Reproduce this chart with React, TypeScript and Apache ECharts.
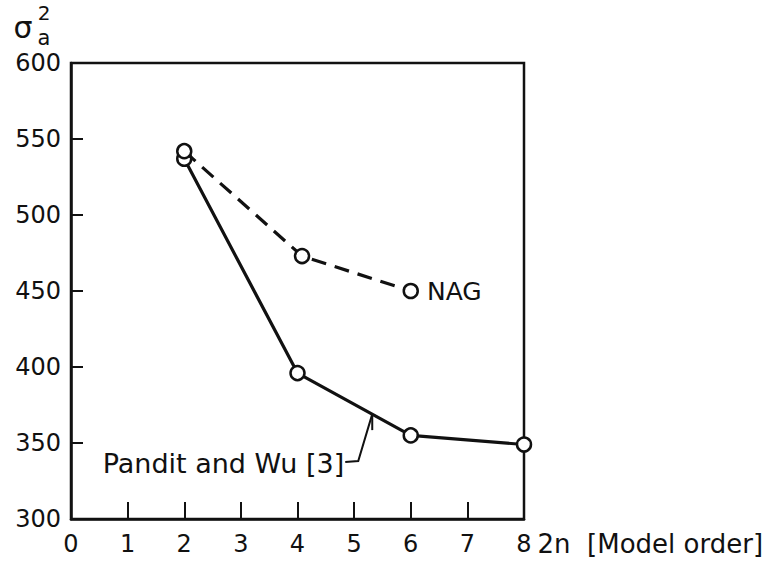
import React, { useEffect, useRef } from "react";
import * as echarts from "echarts";

const xTicks = [0, 1, 2, 3, 4, 5, 6, 7, 8];
const yTicks = [300, 350, 400, 450, 500, 550, 600];
const panditX = [2, 4, 6, 8];
const panditY = [537, 396, 355, 349];
const nagX = [2, 4.08, 6];
const nagY = [542, 473, 450];
const FONT = "DejaVu Sans";

export default function App() {
  const ref = useRef<HTMLDivElement>(null);
  useEffect(() => {
    if (!ref.current) return;
    const chart = echarts.init(ref.current, null, { renderer: "svg" });
    const black = "#111";
    chart.setOption({
      animation: false,
      backgroundColor: "#fff",
      grid: { left: 71, right: 252, top: 63, bottom: 43, show: true, borderColor: black, borderWidth: 2.5 },
      xAxis: {
        type: "value",
        min: xTicks[0],
        max: xTicks[xTicks.length - 1],
        interval: 1,
        name: "2n  [Model order]",
        nameLocation: "end",
        nameGap: 10,
        nameTextStyle: { fontFamily: FONT, fontSize: 26, color: black, verticalAlign: "top", padding: [12, 0, 0, 0] },
        axisLine: { show: true, lineStyle: { color: black, width: 2.5 } },
        axisTick: { show: true, inside: true, length: 17, lineStyle: { color: black, width: 2 } },
        axisLabel: { fontFamily: FONT, fontSize: 24, color: black, margin: 13 },
        splitLine: { show: false },
      },
      yAxis: {
        type: "value",
        min: yTicks[0],
        max: yTicks[yTicks.length - 1],
        interval: 50,
        axisLine: { show: true, lineStyle: { color: black, width: 2.5 } },
        axisTick: { show: true, inside: true, length: 12, lineStyle: { color: black, width: 2 } },
        axisLabel: { fontFamily: FONT, fontSize: 24, color: black, margin: 10 },
        splitLine: { show: false },
      },
      series: [
        {
          name: "Pandit and Wu [3]",
          type: "line",
          data: panditX.map((x, i) => [x, panditY[i]]),
          symbol: "circle",
          symbolSize: 14,
          itemStyle: { color: "#fff", borderColor: black, borderWidth: 2.5 },
          lineStyle: { color: black, width: 3.2 },
          z: 3,
        },
        {
          name: "NAG",
          type: "line",
          data: nagX.map((x, i) => [x, nagY[i]]),
          symbol: "circle",
          symbolSize: 14,
          itemStyle: { color: "#fff", borderColor: black, borderWidth: 2.5 },
          lineStyle: { color: black, width: 3.2, type: [15, 9] },
          label: {
            show: true,
            position: "right",
            distance: 8,
            fontFamily: FONT,
            fontSize: 25,
            color: black,
            formatter: (p: any) => (p.dataIndex === nagX.length - 1 ? "NAG" : ""),
          },
          z: 4,
        },
      ],
    });

    const tip = chart.convertToPixel({ gridIndex: 0 }, [5.32, 369]) as number[];
    chart.setOption({
      graphic: [
        { type: "text", x: 23, y: 27, style: { text: "σ", font: `30px ${FONT}`, fill: black, align: "center", verticalAlign: "middle" } },
        { type: "text", x: 44, y: 13, style: { text: "2", font: `20px ${FONT}`, fill: black, align: "center", verticalAlign: "middle" } },
        { type: "text", x: 44, y: 38, style: { text: "a", font: `21px ${FONT}`, fill: black, align: "center", verticalAlign: "middle" } },
        {
          type: "text",
          x: tip[0] - 28,
          y: tip[1] + 49,
          style: { text: "Pandit and Wu [3]", font: `27px ${FONT}`, fill: black, align: "right", verticalAlign: "middle" },
        },
        {
          type: "polyline",
          shape: { points: [[tip[0] - 27, tip[1] + 48], [tip[0] - 14, tip[1] + 47], [tip[0], tip[1]]] },
          style: { stroke: black, lineWidth: 2, fill: "none" },
        },
        {
          type: "line",
          shape: { x1: tip[0], y1: tip[1], x2: tip[0], y2: tip[1] + 16 },
          style: { stroke: black, lineWidth: 2 },
        },
      ],
    });
    return () => chart.dispose();
  }, []);
  return <div ref={ref} style={{ position: "absolute", left: 0, top: 0, width: 776, height: 562 }} />;
}
